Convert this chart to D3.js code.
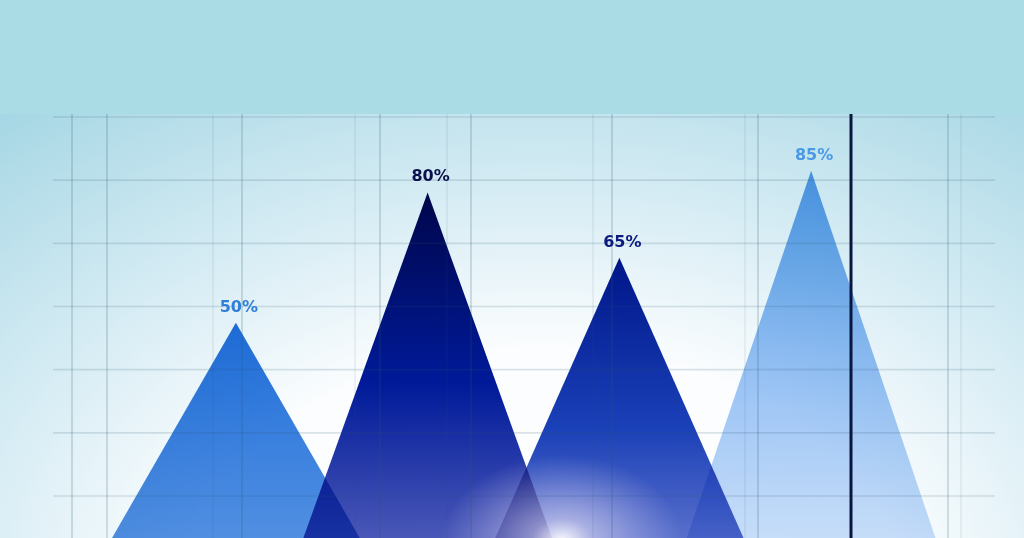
<!DOCTYPE html>
<html>
<head>
<meta charset="utf-8">
<script src="https://cdn.jsdelivr.net/npm/d3@7"></script>
<style>
  html, body { margin: 0; padding: 0; background: #fff; }
  svg { display: block; }
</style>
</head>
<body>
<svg id="chart" width="1024" height="538"></svg>
<script>
// data
const categories = ['A', 'B', 'C', 'D']
const values = [50, 80, 65, 85]
const valueLabels = ['50%', '80%', '65%', '85%']

// decorative grid layout (pixels)
const gridRows = 6
const gridCols = [72, 107, 213, 242, 355, 380, 447, 471, 593, 612, 745, 758, 948, 961]
const gridColsStrong = [72, 107, 242, 380, 471, 612, 758, 948]

const width = 1024
const height = 538
const bandTop = 114

const svg = d3.select('#chart')
const defs = svg.append('defs')

// background gradient
const bg = defs.append('radialGradient')
  .attr('id', 'bg')
  .attr('gradientUnits', 'userSpaceOnUse')
  .attr('cx', 540).attr('cy', 600).attr('r', 900)
  .attr('gradientTransform', 'translate(540,600) scale(1,0.7) translate(-540,-600)')
bg.append('stop').attr('offset', 0).attr('stop-color', '#ffffff')
bg.append('stop').attr('offset', 0.4).attr('stop-color', '#fbfdfe')
bg.append('stop').attr('offset', 0.65).attr('stop-color', '#d6ecf4')
bg.append('stop').attr('offset', 1).attr('stop-color', '#a2d5e3')

svg.append('rect')
  .attr('width', width).attr('height', height)
  .attr('fill', 'url(#bg)')

svg.append('rect')
  .attr('width', width).attr('height', bandTop)
  .attr('fill', '#aadce6')

// triangle gradients
const fills = [
  [['0', '#2070dc'], ['1', '#5290e2']],
  [['0', '#00064e'], ['0.55', '#001a9a'], ['1', '#4a58b8']],
  [['0', '#00168c'], ['0.6', '#1a40b8'], ['1', '#5a70cc']],
  [['0', '#4696e8'], ['0.5', '#8abaf4'], ['1', '#c4dcfa']]
]
fills.forEach((stops, i) => {
  const g = defs.append('linearGradient')
    .attr('id', 'tri' + i)
    .attr('x1', 0).attr('y1', 0).attr('x2', 0).attr('y2', 1)
  stops.forEach(s => g.append('stop').attr('offset', s[0]).attr('stop-color', s[1]))
})

const glow = defs.append('radialGradient').attr('id', 'glow')
glow.append('stop').attr('offset', 0).attr('stop-color', '#ffffff').attr('stop-opacity', 0.95)
glow.append('stop').attr('offset', 0.25).attr('stop-color', '#f0e8f8').attr('stop-opacity', 0.55)
glow.append('stop').attr('offset', 1).attr('stop-color', '#d8d0f0').attr('stop-opacity', 0)

// scales
const x = d3.scaleBand()
  .domain(categories)
  .range([140, 907])

const y = d3.scaleLinear()
  .domain([0, 100])
  .range([540, 105.6])

const halfBase = x.step() * 0.652

const data = categories.map((c, i) => ({ cat: c, value: values[i], label: valueLabels[i], i }))

// triangles
const triangle = d => {
  const cx = x(d.cat) + x.bandwidth() / 2
  return d3.line()([[cx - halfBase, y(0)], [cx, y(d.value)], [cx + halfBase, y(0)]]) + 'Z'
}

svg.append('g')
  .selectAll('path')
  .data(data)
  .join('path')
  .attr('d', triangle)
  .attr('fill', d => `url(#tri${d.i})`)
  .style('mix-blend-mode', 'multiply')
  .attr('opacity', d => d.i === 3 ? 0.9 : 1)

// light glow at the bottom
svg.append('ellipse')
  .attr('cx', 562).attr('cy', 540)
  .attr('rx', 120).attr('ry', 85)
  .attr('fill', 'url(#glow)')

// grid
const gridY = d3.scaleLinear().domain([0, gridRows]).range([117, 496])
const grid = svg.append('g')

grid.selectAll('line.h')
  .data(d3.range(gridRows + 1))
  .join('line')
  .attr('class', 'h')
  .attr('x1', 53).attr('x2', 995)
  .attr('y1', d => gridY(d)).attr('y2', d => gridY(d))
  .attr('stroke', '#2a5a70')
  .attr('stroke-opacity', 0.16)
  .attr('stroke-width', 1.6)

grid.selectAll('line.v')
  .data(gridCols)
  .join('line')
  .attr('class', 'v')
  .attr('x1', d => d).attr('x2', d => d)
  .attr('y1', bandTop).attr('y2', height)
  .attr('stroke', '#2a5a70')
  .attr('stroke-opacity', d => gridColsStrong.includes(d) ? 0.3 : 0.14)
  .attr('stroke-width', d => gridColsStrong.includes(d) ? 1.2 : 1)

grid.append('line')
  .attr('x1', 851).attr('x2', 851)
  .attr('y1', bandTop).attr('y2', height)
  .attr('stroke', '#081640')
  .attr('stroke-width', 3)

// labels
const labelColors = ['#2f7ed8', '#0a0f4e', '#0b1a7c', '#4a9ae6']
svg.append('g')
  .selectAll('text')
  .data(data)
  .join('text')
  .attr('x', d => x(d.cat) + x.bandwidth() / 2 + 3)
  .attr('y', d => y(d.value) - 11)
  .attr('text-anchor', 'middle')
  .attr('font-family', 'DejaVu Sans, sans-serif')
  .attr('font-weight', 'bold')
  .attr('font-size', 16)
  .attr('fill', (d, i) => labelColors[i])
  .text(d => d.label)
</script>
</body>
</html>
